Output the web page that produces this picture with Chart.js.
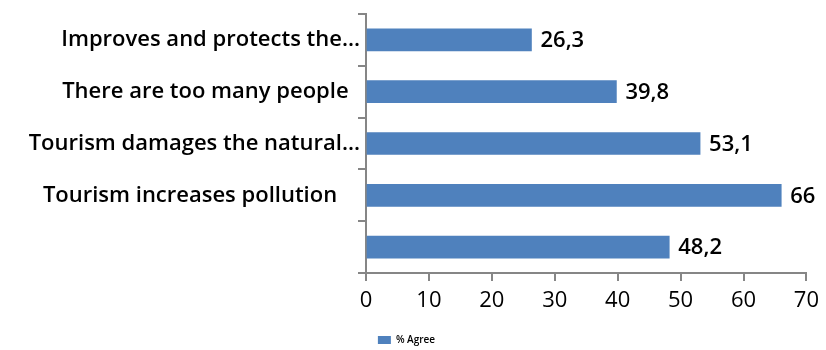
<!DOCTYPE html>
<html>
<head>
<meta charset="utf-8">
<script src="https://cdn.jsdelivr.net/npm/chart.js@4"></script>
<style>
html,body{margin:0;padding:0;background:#fff;}
#wrap{width:826px;height:350px;}
</style>
</head>
<body>
<div id="wrap"><canvas id="chart"></canvas></div>
<script>
const categories = ["Improves and protects the...", "There are too many people  ", "Tourism damages the natural...", "Tourism increases pollution    ", ""];
const agree = [26.3, 39.8, 53.1, 66, 48.2];
const xTicks = [0, 10, 20, 30, 40, 50, 60, 70];

const FONT = "'Open Sans', Lato, sans-serif";

/* etiquetas de valor al final de cada barra */
const valueLabels = {
    id: "valueLabels",
    afterDatasetsDraw(chart) {
        const ctx = chart.ctx;
        const meta = chart.getDatasetMeta(0);
        ctx.save();
        ctx.font = "600 22px " + FONT;
        ctx.fillStyle = "#000";
        ctx.textBaseline = "middle";
        ctx.textAlign = "left";
        meta.data.forEach((bar, i) => {
            ctx.fillText(String(agree[i]).replace(".", ","), bar.x + 9, bar.y + 1);
        });
        ctx.restore();
    }
};

new Chart(document.getElementById("chart"), {
    type: "bar",
    data: {
        labels: categories,
        datasets: [{
            label: "% Agree",
            data: agree,
            backgroundColor: "#4f81bd",
            barThickness: 22
        }]
    },
    options: {
        indexAxis: "y",
        responsive: true,
        maintainAspectRatio: false,
        animation: false,
        layout: { padding: { top: 14, right: 13, bottom: -5, left: 0 } },
        scales: {
            x: {
                min: 0,
                max: 70,
                afterBuildTicks: s => { s.ticks = xTicks.map(v => ({ value: v })); },
                grid: { drawOnChartArea: false, drawTicks: true, tickLength: 8, color: "#868686", lineWidth: 2 },
                border: { color: "#868686", width: 2 },
                ticks: { color: "#000", font: { family: FONT, size: 22 }, padding: 7 },
                afterFit: s => { s.height = 58; }
            },
            y: {
                grid: { drawOnChartArea: false, drawTicks: true, tickLength: 8, color: "#868686", lineWidth: 2 },
                border: { color: "#868686", width: 2 },
                ticks: { color: "#000", font: { family: FONT, size: 22, weight: "600" }, padding: -2 },
                afterFit: s => { s.width = 366; }
            }
        },
        plugins: {
            legend: {
                position: "bottom",
                labels: { boxWidth: 13, boxHeight: 8, font: { family: FONT, size: 10, weight: "600" }, color: "#000", padding: 4 }
            },
            tooltip: { enabled: false }
        }
    },
    plugins: [valueLabels]
});
</script>
</body>
</html>
